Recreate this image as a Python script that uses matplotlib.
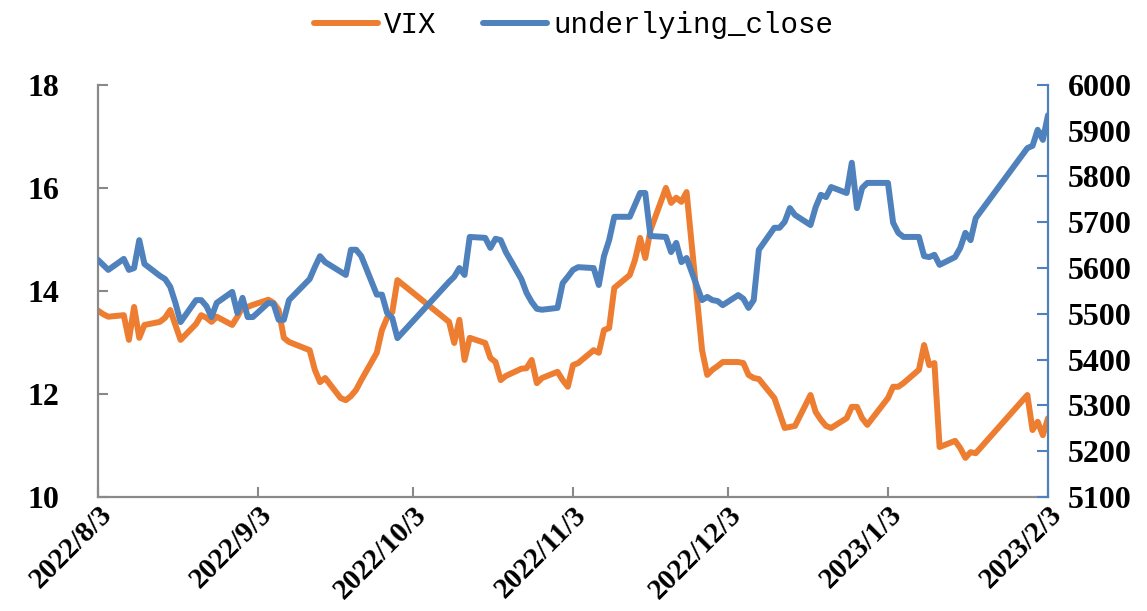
import matplotlib
matplotlib.use('Agg')
import matplotlib.pyplot as plt
import matplotlib.dates as mdates
from matplotlib.ticker import FuncFormatter
from datetime import datetime

# trading days
trade_days = [
    '2022-08-03', '2022-08-04', '2022-08-05', '2022-08-08', '2022-08-09', '2022-08-10',
    '2022-08-11', '2022-08-12', '2022-08-15', '2022-08-16', '2022-08-17', '2022-08-18',
    '2022-08-19', '2022-08-22', '2022-08-23', '2022-08-24', '2022-08-25', '2022-08-26',
    '2022-08-29', '2022-08-30', '2022-08-31', '2022-09-01', '2022-09-02', '2022-09-05',
    '2022-09-06', '2022-09-07', '2022-09-08', '2022-09-09', '2022-09-13', '2022-09-14',
    '2022-09-15', '2022-09-16', '2022-09-19', '2022-09-20', '2022-09-21', '2022-09-22',
    '2022-09-23', '2022-09-26', '2022-09-27', '2022-09-28', '2022-09-29', '2022-09-30',
    '2022-10-10', '2022-10-11', '2022-10-12', '2022-10-13', '2022-10-14', '2022-10-17',
    '2022-10-18', '2022-10-19', '2022-10-20', '2022-10-21', '2022-10-24', '2022-10-25',
    '2022-10-26', '2022-10-27', '2022-10-28', '2022-10-31', '2022-11-01', '2022-11-02',
    '2022-11-03', '2022-11-04', '2022-11-07', '2022-11-08', '2022-11-09', '2022-11-10',
    '2022-11-11', '2022-11-14', '2022-11-15', '2022-11-16', '2022-11-17', '2022-11-18',
    '2022-11-21', '2022-11-22', '2022-11-23', '2022-11-24', '2022-11-25', '2022-11-28',
    '2022-11-29', '2022-11-30', '2022-12-01', '2022-12-02', '2022-12-05', '2022-12-06',
    '2022-12-07', '2022-12-08', '2022-12-09', '2022-12-12', '2022-12-13', '2022-12-14',
    '2022-12-15', '2022-12-16', '2022-12-19', '2022-12-20', '2022-12-21', '2022-12-22',
    '2022-12-23', '2022-12-26', '2022-12-27', '2022-12-28', '2022-12-29', '2022-12-30',
    '2023-01-03', '2023-01-04', '2023-01-05', '2023-01-06', '2023-01-09', '2023-01-10',
    '2023-01-11', '2023-01-12', '2023-01-13', '2023-01-16', '2023-01-17', '2023-01-18',
    '2023-01-19', '2023-01-20', '2023-01-30', '2023-01-31', '2023-02-01', '2023-02-02',
    '2023-02-03',
]

vix = [
    13.62, 13.55, 13.50, 13.53, 13.05, 13.69, 13.09, 13.34, 13.40, 13.48, 13.63, 13.34,
    13.05, 13.36, 13.53, 13.48, 13.40, 13.50, 13.34, 13.50, 13.69, 13.69, 13.73, 13.83,
    13.77, 13.63, 13.09, 13.01, 12.85, 12.47, 12.23, 12.31, 11.92, 11.88, 11.96, 12.08,
    12.27, 12.80, 13.24, 13.48, 13.59, 14.21, 13.40, 12.99, 13.44, 12.66, 13.09, 12.99,
    12.70, 12.62, 12.27, 12.35, 12.49, 12.50, 12.66, 12.21, 12.31, 12.43, 12.27, 12.14,
    12.56, 12.60, 12.85, 12.80, 13.24, 13.28, 14.06, 14.31, 14.60, 15.03, 14.64, 15.18,
    16.00, 15.71, 15.81, 15.73, 15.92, 12.85, 12.37, 12.47, 12.54, 12.62, 12.62, 12.60,
    12.37, 12.31, 12.29, 11.92, 11.63, 11.34, 11.36, 11.38, 11.98, 11.65, 11.50, 11.38,
    11.34, 11.53, 11.75, 11.75, 11.53, 11.40, 11.92, 12.14, 12.14, 12.21, 12.47, 12.95,
    12.56, 12.60, 10.97, 11.09, 10.95, 10.76, 10.87, 10.85, 11.98, 11.30, 11.46, 11.20,
    11.53,
]

underlying_close = [
    5618, 5607, 5596, 5620, 5596, 5600, 5661, 5609, 5583, 5576, 5559, 5524,
    5482, 5530, 5530, 5517, 5493, 5524, 5548, 5502, 5535, 5493, 5493, 5524,
    5522, 5487, 5487, 5530, 5576, 5602, 5626, 5613, 5592, 5585, 5640, 5640,
    5626, 5542, 5542, 5502, 5491, 5447, 5570, 5581, 5600, 5585, 5668, 5666,
    5644, 5664, 5661, 5635, 5576, 5546, 5526, 5511, 5509, 5513, 5567, 5581,
    5596, 5602, 5600, 5563, 5626, 5661, 5712, 5712, 5738, 5764, 5764, 5670,
    5668, 5635, 5655, 5613, 5622, 5530, 5537, 5530, 5528, 5519, 5541, 5533,
    5513, 5530, 5640, 5688, 5688, 5701, 5731, 5716, 5694, 5733, 5760, 5755,
    5777, 5764, 5830, 5731, 5775, 5786, 5786, 5699, 5677, 5668, 5668, 5626,
    5624, 5629, 5607, 5624, 5644, 5677, 5661, 5709, 5862, 5867, 5902, 5880,
    5934,
]

x_ticks = ['2022-08-03', '2022-09-03', '2022-10-03', '2022-11-03',
           '2022-12-03', '2023-01-03', '2023-02-03']

ORANGE = '#ED7D31'
BLUE = '#4F81BD'
GREY = '#898989'

dates = [datetime.strptime(d, '%Y-%m-%d') for d in trade_days]
tick_dates = [datetime.strptime(d, '%Y-%m-%d') for d in x_ticks]

fig = plt.figure(figsize=(11.47, 6.11), dpi=100)
ax = fig.add_axes([0.0854, 0.1866, 0.8283, 0.6744])
ax2 = ax.twinx()

l1, = ax.plot(dates, vix, color=ORANGE, lw=4.3, solid_joinstyle='round',
              solid_capstyle='round', label='VIX')
l2, = ax2.plot(dates, underlying_close, color=BLUE, lw=4.3, solid_joinstyle='round',
               solid_capstyle='round', label='underlying_close')

ax.set_xlim(tick_dates[0], tick_dates[-1])
ax.set_ylim(10, 18)
ax.set_yticks([10, 12, 14, 16, 18])
ax2.set_ylim(5100, 6000)
ax2.set_yticks(range(5100, 6001, 100))
ax.set_xticks(tick_dates)
ax.xaxis.set_major_formatter(FuncFormatter(
    lambda v, pos: '{0}/{1}/{2}'.format(mdates.num2date(v).year,
                                       mdates.num2date(v).month,
                                       mdates.num2date(v).day)))

for a in (ax, ax2):
    a.spines['top'].set_visible(False)
ax.spines['right'].set_visible(False)
ax.spines['left'].set_color(GREY)
ax.spines['bottom'].set_color(GREY)
ax.spines['left'].set_linewidth(1.6)
ax.spines['bottom'].set_linewidth(1.6)
ax2.spines['left'].set_visible(False)
ax2.spines['bottom'].set_visible(False)
ax2.spines['right'].set_color(BLUE)
ax2.spines['right'].set_linewidth(1.6)

tick_font = dict(family='Liberation Serif', weight='bold', size=23)
date_font = dict(family='Liberation Serif', weight='bold', size=21)
ax.tick_params(axis='y', direction='in', length=7, width=1.5, color=GREY, pad=28)
ax.tick_params(axis='x', direction='in', length=7, width=1.5, color=GREY, pad=3)
ax2.tick_params(axis='y', direction='in', length=8, width=1.5, color=BLUE, pad=14)
for lab in ax.get_yticklabels() + ax2.get_yticklabels():
    lab.set_fontproperties(matplotlib.font_manager.FontProperties(**tick_font))
for lab in ax.get_xticklabels():
    lab.set_fontproperties(matplotlib.font_manager.FontProperties(**date_font))
    lab.set_rotation(45)
    lab.set_ha('right')
    lab.set_rotation_mode('anchor')

fig.legend([l1, l2], ['VIX', 'underlying_close'], loc='upper center',
           bbox_to_anchor=(0.5, 1.025), ncol=2, frameon=False,
           prop=dict(family='Liberation Mono', size=21),
           handlelength=2.2, handletextpad=0.2, columnspacing=1.6)

fig.savefig('out.png', dpi=100)
